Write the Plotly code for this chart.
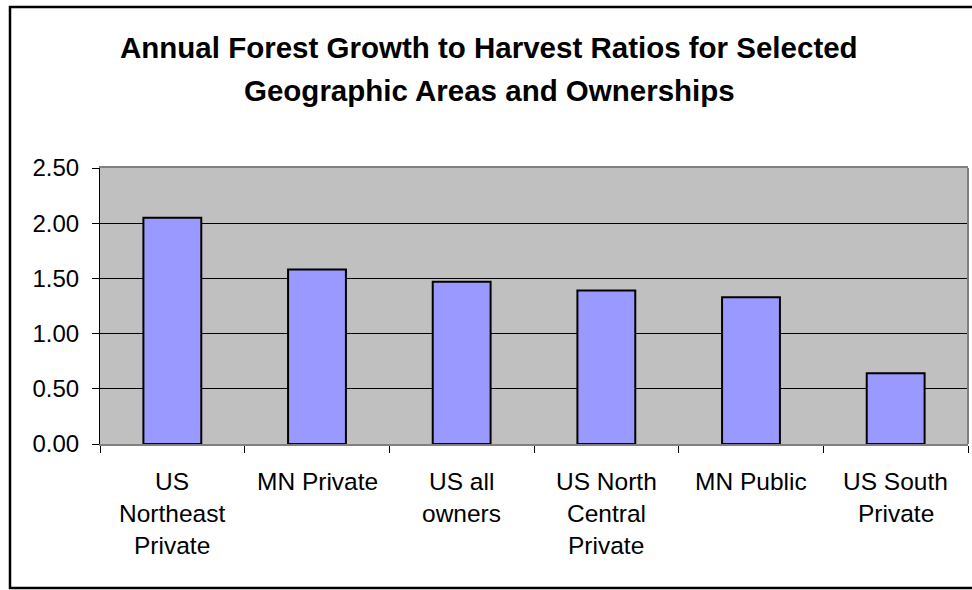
import plotly.graph_objects as go

categories = ["US Northeast Private", "MN Private", "US all owners",
              "US North Central Private", "MN Public", "US South Private"]
label_lines = [["US", "Northeast", "Private"], ["MN Private"], ["US all", "owners"],
               ["US North", "Central", "Private"], ["MN Public"], ["US South", "Private"]]
ratios = [2.05, 1.58, 1.47, 1.39, 1.33, 0.64]
y_ticks = [0.0, 0.5, 1.0, 1.5, 2.0, 2.5]
title_lines = ["Annual Forest Growth to Harvest Ratios for Selected",
               "Geographic Areas and Ownerships"]

W, H = 972, 590
ML, MR, MT, MB = 100, 4, 168, 146
PW, PH = W - ML - MR, H - MT - MB
FONT = "Liberation Sans, Arial, sans-serif"


def px_x(p):
    return (p - ML) / PW


def px_y(p):
    return (H - MB - p) / PH


fig = go.Figure()
fig.add_trace(go.Bar(
    x=categories, y=ratios,
    marker=dict(color="#9999FF", line=dict(color="black", width=2)),
    showlegend=False, hoverinfo="x+y",
))

annotations = []
for i, t in enumerate(title_lines):
    annotations.append(dict(
        text=f"<b>{t}</b>", x=px_x(489), y=px_y(47 + i * 43),
        xref="paper", yref="paper", xanchor="center", yanchor="middle",
        showarrow=False, font=dict(family=FONT, size=29.5, color="black"),
    ))
for cat, lines in zip(categories, label_lines):
    for j, ln in enumerate(lines):
        annotations.append(dict(
            text=ln, x=cat, y=0, xref="x", yref="y",
            xanchor="center", yanchor="middle", yshift=-(37 + j * 32),
            showarrow=False, font=dict(family=FONT, size=24.5, color="black"),
        ))

shapes = [
    # outer chart border
    dict(type="rect", xref="paper", yref="paper",
         x0=px_x(10), x1=px_x(990), y0=px_y(588), y1=px_y(7),
         line=dict(color="black", width=2.5), fillcolor="rgba(0,0,0,0)", layer="above"),
    # plot area right border
    dict(type="line", xref="paper", yref="paper", x0=1, x1=1, y0=0, y1=1,
         line=dict(color="#808080", width=2), layer="above"),
]

fig.update_layout(
    width=W, height=H,
    margin=dict(l=ML, r=MR, t=MT, b=MB, pad=0),
    paper_bgcolor="white", plot_bgcolor="#C0C0C0",
    bargap=0.6,
    annotations=annotations, shapes=shapes,
    font=dict(family=FONT, color="black"),
    xaxis=dict(
        type="category", showticklabels=False, showgrid=False, zeroline=False,
        ticks="outside", tickson="boundaries", ticklen=7, tickcolor="black", tickwidth=1,
        showline=True, linecolor="#808080", linewidth=2, mirror=True,
        fixedrange=True,
    ),
    yaxis=dict(
        range=[0, 2.5], tickvals=y_ticks, tickformat=".2f",
        showgrid=True, gridcolor="black", gridwidth=1, zeroline=False,
        ticks="outside", ticklen=7, tickcolor="black", tickwidth=1,
        showline=True, linecolor="black", linewidth=1,
        tickfont=dict(family=FONT, size=24, color="black"),
        ticklabelstandoff=8, fixedrange=True,
    ),
)

fig.write_html(
    "out.html",
    config={"displayModeBar": False},
    post_script="document.body.style.margin='0';document.body.style.overflow='hidden';",
)
